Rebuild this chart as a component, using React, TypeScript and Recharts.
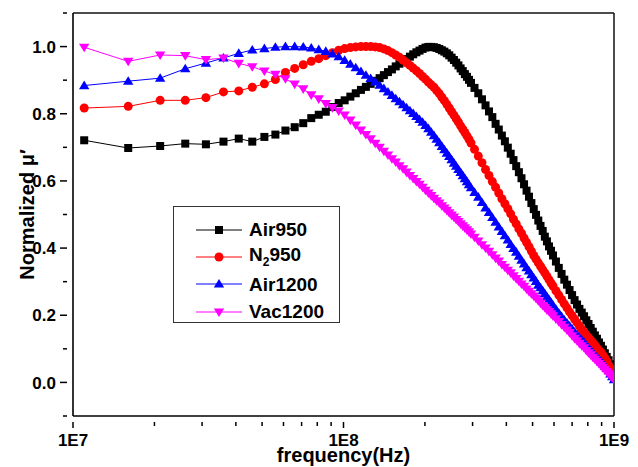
import { LineChart, Line, XAxis, YAxis, Legend } from 'recharts'

// sweep frequencies in MHz
const freqMHz = [
  11, 16, 21, 26, 31, 36, 41, 46, 51, 56, 61, 66, 71, 76, 81, 86, 91, 96, 101,
  106, 111, 116, 121, 126, 131, 136, 141, 146, 151, 156, 161, 166, 171, 176, 181, 186, 191, 196,
  201, 206, 211, 216, 221, 226, 231, 236, 241, 246, 251, 256, 261, 266, 271, 276, 281, 286, 291, 296,
  305, 315, 325, 335, 345, 355, 365, 375, 385, 395, 405, 415, 425, 435, 445, 455, 465, 475, 485, 495,
  505, 515, 525, 535, 545, 555, 565, 575, 585, 595,
  610, 625, 640, 655, 670, 685, 700, 715, 730, 745, 760, 775, 790, 805, 820, 835, 850, 865, 880, 895,
  910, 925, 940, 955, 970, 985, 1000,
]

const air950 = [
  0.721, 0.698, 0.704, 0.711, 0.709, 0.717, 0.726, 0.717, 0.731, 0.738, 0.750, 0.760, 0.772, 0.787, 0.797, 0.806, 0.820, 0.832, 0.840,
  0.851, 0.861, 0.871, 0.880, 0.889, 0.898, 0.906, 0.915, 0.924, 0.932, 0.941, 0.949, 0.956, 0.963, 0.970, 0.977, 0.983, 0.988, 0.993,
  0.997, 0.999, 0.999, 0.998, 0.996, 0.993, 0.989, 0.985, 0.980, 0.974, 0.967, 0.960, 0.952, 0.944, 0.935, 0.927, 0.918, 0.910, 0.901, 0.892,
  0.877, 0.861, 0.843, 0.825, 0.807, 0.790, 0.770, 0.753, 0.735, 0.718, 0.699, 0.681, 0.662, 0.644, 0.626, 0.608, 0.590, 0.571, 0.553, 0.534,
  0.516, 0.499, 0.482, 0.466, 0.451, 0.434, 0.420, 0.405, 0.392, 0.378,
  0.360, 0.341, 0.323, 0.306, 0.291, 0.275, 0.260, 0.245, 0.232, 0.219, 0.208, 0.197, 0.185, 0.174, 0.162, 0.151, 0.140, 0.130, 0.119, 0.109,
  0.098, 0.087, 0.076, 0.066, 0.054, 0.042, 0.032,
]

const n2950 = [
  0.817, 0.822, 0.840, 0.840, 0.848, 0.865, 0.868, 0.879, 0.889, 0.902, 0.923, 0.935, 0.946, 0.956, 0.964, 0.973, 0.982, 0.989, 0.994,
  0.997, 0.999, 1.000, 1.000, 1.000, 0.999, 0.997, 0.993, 0.988, 0.982, 0.975, 0.968, 0.960, 0.952, 0.944, 0.936, 0.928, 0.920, 0.911,
  0.903, 0.894, 0.886, 0.879, 0.869, 0.860, 0.849, 0.839, 0.828, 0.817, 0.806, 0.796, 0.785, 0.775, 0.764, 0.754, 0.744, 0.734, 0.724, 0.713,
  0.694, 0.674, 0.654, 0.634, 0.616, 0.598, 0.581, 0.564, 0.547, 0.532, 0.517, 0.502, 0.486, 0.472, 0.457, 0.444, 0.430, 0.417, 0.404, 0.391,
  0.378, 0.367, 0.356, 0.346, 0.336, 0.326, 0.316, 0.306, 0.296, 0.287,
  0.273, 0.260, 0.247, 0.234, 0.222, 0.210, 0.199, 0.188, 0.178, 0.168, 0.158, 0.150, 0.141, 0.133, 0.126, 0.118, 0.111, 0.103, 0.096, 0.089,
  0.081, 0.073, 0.063, 0.051, 0.042, 0.033, 0.024,
]

const air1200 = [
  0.884, 0.897, 0.906, 0.934, 0.951, 0.966, 0.980, 0.990, 0.994, 0.998, 1.000, 1.000, 0.999, 0.996, 0.991, 0.986, 0.978, 0.970, 0.959,
  0.948, 0.937, 0.926, 0.915, 0.905, 0.895, 0.885, 0.875, 0.865, 0.855, 0.845, 0.836, 0.827, 0.818, 0.809, 0.801, 0.792, 0.783, 0.775,
  0.765, 0.756, 0.745, 0.735, 0.724, 0.714, 0.703, 0.693, 0.683, 0.673, 0.663, 0.653, 0.644, 0.634, 0.625, 0.616, 0.607, 0.598, 0.589, 0.580,
  0.566, 0.552, 0.536, 0.520, 0.506, 0.491, 0.477, 0.463, 0.450, 0.437, 0.424, 0.411, 0.399, 0.388, 0.376, 0.364, 0.353, 0.342, 0.332, 0.321,
  0.311, 0.301, 0.290, 0.282, 0.273, 0.264, 0.255, 0.247, 0.238, 0.230,
  0.218, 0.207, 0.196, 0.186, 0.177, 0.168, 0.159, 0.150, 0.142, 0.134, 0.126, 0.119, 0.111, 0.103, 0.096, 0.089, 0.082, 0.075, 0.069, 0.062,
  0.056, 0.049, 0.042, 0.035, 0.025, 0.017, 0.008,
]

const vac1200 = [
  0.998, 0.956, 0.975, 0.973, 0.961, 0.966, 0.950, 0.940, 0.927, 0.917, 0.904, 0.888, 0.874, 0.856, 0.844, 0.830, 0.818, 0.808, 0.796,
  0.781, 0.766, 0.751, 0.738, 0.725, 0.712, 0.700, 0.688, 0.677, 0.666, 0.656, 0.645, 0.636, 0.626, 0.616, 0.607, 0.598, 0.590, 0.581,
  0.572, 0.564, 0.556, 0.548, 0.541, 0.534, 0.526, 0.519, 0.512, 0.505, 0.498, 0.492, 0.485, 0.479, 0.472, 0.466, 0.460, 0.454, 0.448, 0.442,
  0.432, 0.421, 0.410, 0.400, 0.390, 0.380, 0.370, 0.361, 0.351, 0.343, 0.334, 0.326, 0.317, 0.309, 0.301, 0.293, 0.286, 0.278, 0.271, 0.264,
  0.257, 0.250, 0.243, 0.236, 0.229, 0.223, 0.216, 0.211, 0.204, 0.198,
  0.189, 0.181, 0.172, 0.164, 0.156, 0.148, 0.139, 0.131, 0.124, 0.116, 0.109, 0.103, 0.095, 0.088, 0.082, 0.075, 0.069, 0.062, 0.056, 0.050,
  0.044, 0.038, 0.032, 0.026, 0.020, 0.014, 0.009,
]

const xMajor = [1e7, 1e8, 1e9]
const xTickLabels = ['1E7', '1E8', '1E9']
const xTicks = [
  1e7, 2e7, 3e7, 4e7, 5e7, 6e7, 7e7, 8e7, 9e7,
  1e8, 2e8, 3e8, 4e8, 5e8, 6e8, 7e8, 8e8, 9e8, 1e9,
]
const yMajor = [0, 0.2, 0.4, 0.6, 0.8, 1.0]
const yTickLabels = ['0.0', '0.2', '0.4', '0.6', '0.8', '1.0']
const yTicks = [-0.1, 0, 0.1, 0.2, 0.3, 0.4, 0.5, 0.6, 0.7, 0.8, 0.9, 1.0, 1.1]

const series = [
  { key: 'air950', color: '#000000', shape: 'square' },
  { key: 'n2950', color: '#ff0000', shape: 'circle' },
  { key: 'air1200', color: '#0000ff', shape: 'up' },
  { key: 'vac1200', color: '#ff00ff', shape: 'down' },
]

const data = freqMHz.map((m, i) => ({
  f: m * 1e6,
  air950: air950[i],
  n2950: n2950[i],
  air1200: air1200[i],
  vac1200: vac1200[i],
}))

const FONT = '"Liberation Sans", Arial, Helvetica, sans-serif'
const MARGIN = { top: 5, right: 24, left: 0, bottom: 0 }

function Marker({ shape, cx, cy, color }: { shape: string; cx: number; cy: number; color: string }) {
  if (cx == null || cy == null) return null
  switch (shape) {
    case 'square':
      return <rect x={cx - 4} y={cy - 4} width={8} height={8} fill={color} />
    case 'circle':
      return <circle cx={cx} cy={cy} r={4.5} fill={color} />
    case 'up':
      return <polygon points={`${cx},${cy - 5} ${cx - 5.2},${cy + 3.6} ${cx + 5.2},${cy + 3.6}`} fill={color} />
    default:
      return <polygon points={`${cx},${cy + 5} ${cx - 5.2},${cy - 3.6} ${cx + 5.2},${cy - 3.6}`} fill={color} />
  }
}

const XTick = (props: any) => {
  const { x, y, payload } = props
  const i = xMajor.indexOf(payload.value)
  return (
    <g>
      <line x1={x} x2={x} y1={y} y2={y + (i >= 0 ? 6 : 4)} stroke="#000" strokeWidth={1.5} />
      {i >= 0 && (
        <text x={x} y={y + 24} textAnchor="middle" fontFamily={FONT} fontWeight={700} fontSize={17} fill="#000">
          {xTickLabels[i]}
        </text>
      )}
    </g>
  )
}

const YTick = (props: any) => {
  const { x, y, payload } = props
  const i = yMajor.findIndex((v) => Math.abs(v - payload.value) < 1e-9)
  return (
    <g>
      <line x1={x - (i >= 0 ? 7 : 4)} x2={x} y1={y} y2={y} stroke="#000" strokeWidth={1.5} />
      {i >= 0 && (
        <text x={x - 11} y={y} dy="0.36em" textAnchor="end" fontFamily={FONT} fontWeight={700} fontSize={17} fill="#000">
          {yTickLabels[i]}
        </text>
      )}
    </g>
  )
}

// x-axis title, plus the top and right edges of the plot frame
const XTitle = (props: any) => {
  const vb = props.viewBox
  const left = vb.x
  const right = vb.x + vb.width
  const top = MARGIN.top
  const bottom = vb.y
  return (
    <g>
      <line x1={left} x2={right} y1={top} y2={top} stroke="#111" strokeWidth={1.5} />
      <line x1={right} x2={right} y1={top} y2={bottom} stroke="#111" strokeWidth={1.5} />
      <text x={vb.x + vb.width / 2} y={vb.y + 46} textAnchor="middle" fontFamily={FONT} fontWeight={700} fontSize={20} fill="#000">
        frequency(Hz)
      </text>
    </g>
  )
}

const YTitle = (props: any) => {
  const vb = props.viewBox
  const cx = 26
  const cy = vb.y + vb.height / 2
  return (
    <text x={cx} y={cy} transform={`rotate(-90, ${cx}, ${cy})`} textAnchor="middle" fontFamily={FONT} fontWeight={700} fontSize={20} fill="#000">
      Normalized μ′
    </text>
  )
}

function LegendBox() {
  return (
    <div
      style={{
        width: 167,
        height: 117,
        boxSizing: 'border-box',
        border: '1px solid #333',
        background: '#fff',
        paddingTop: 9,
        fontFamily: FONT,
        fontWeight: 700,
        fontSize: 19,
        color: '#000',
      }}
    >
      {series.map((s) => (
        <div key={s.key} style={{ display: 'flex', alignItems: 'center', height: 27.3 }}>
          <svg width={47} height={14} style={{ marginLeft: 22, overflow: 'visible' }}>
            <line x1={0} x2={46} y1={7} y2={7} stroke={s.color} strokeWidth={1} />
            <Marker shape={s.shape} cx={23} cy={7} color={s.color} />
          </svg>
          <span style={{ marginLeft: 6, lineHeight: 1 }}>
            {s.key === 'air950' && 'Air950'}
            {s.key === 'n2950' && (
              <>
                N<sub style={{ fontSize: 12, verticalAlign: -5 }}>2</sub>950
              </>
            )}
            {s.key === 'air1200' && 'Air1200'}
            {s.key === 'vac1200' && 'Vac1200'}
          </span>
        </div>
      ))}
    </div>
  )
}

export default function App() {
  return (
    <div style={{ width: 630, height: 459 }}>
      <LineChart width={630} height={459} data={data} margin={MARGIN}>
        <XAxis
          dataKey="f"
          type="number"
          scale="log"
          domain={[1e7, 1e9]}
          allowDataOverflow
          ticks={xTicks}
          interval={0}
          tickLine={false}
          tickMargin={0}
          tick={XTick}
          height={51}
          axisLine={{ stroke: '#000', strokeWidth: 1.6 }}
          label={XTitle}
        />
        <YAxis
          type="number"
          domain={[-0.1, 1.1]}
          allowDataOverflow
          ticks={yTicks}
          interval={0}
          tickLine={false}
          tickMargin={0}
          tick={YTick}
          width={65}
          axisLine={{ stroke: '#000', strokeWidth: 1.6 }}
          label={YTitle}
        />
        {series.map((s) => (
          <Line
            key={s.key}
            dataKey={s.key}
            type="linear"
            stroke={s.color}
            strokeWidth={1}
            isAnimationActive={false}
            activeDot={false}
            dot={(p: any) => <Marker key={`${s.key}-${p.index}`} shape={s.shape} cx={p.cx} cy={p.cy} color={s.color} />}
          />
        ))}
        <Legend
          layout="vertical"
          align="center"
          verticalAlign="middle"
          wrapperStyle={{ left: 165, top: 198, width: 167, height: 117 }}
          content={() => <LegendBox />}
        />
      </LineChart>
    </div>
  )
}
